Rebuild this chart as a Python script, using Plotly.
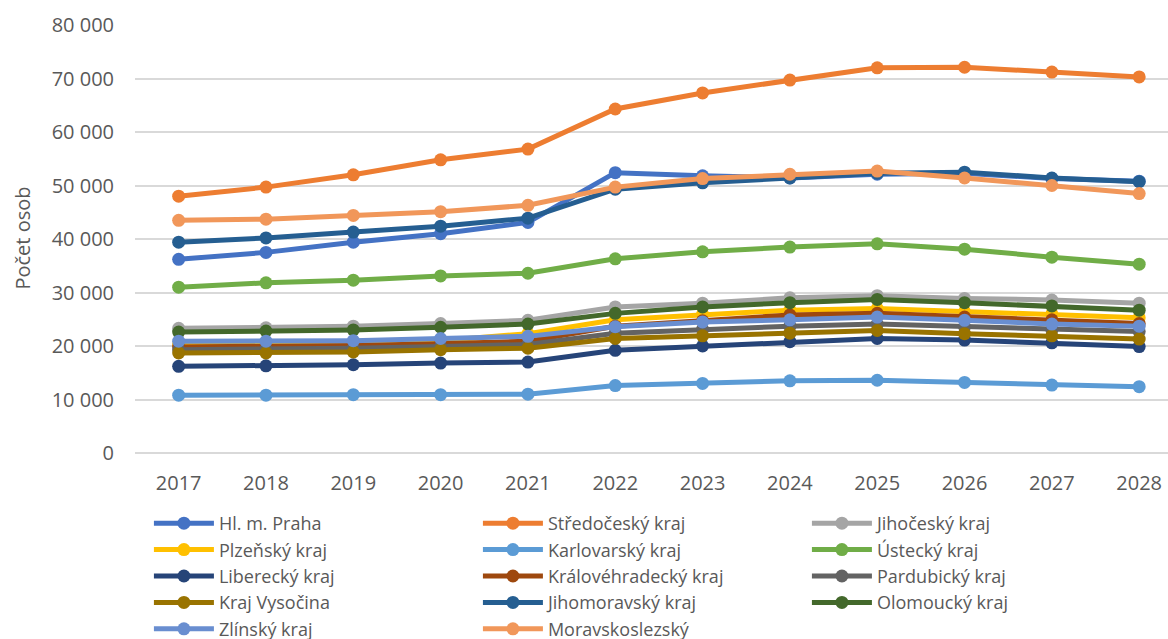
import plotly.graph_objects as go

years = [2017, 2018, 2019, 2020, 2021, 2022, 2023, 2024, 2025, 2026, 2027, 2028]

regions = [
    "Hl. m. Praha", "Středočeský kraj", "Jihočeský kraj", "Plzeňský kraj",
    "Karlovarský kraj", "Ústecký kraj", "Liberecký kraj", "Královéhradecký kraj",
    "Pardubický kraj", "Kraj Vysočina", "Jihomoravský kraj", "Olomoucký kraj",
    "Zlínský kraj", "Moravskoslezský",
]

praha = [36200, 37500, 39400, 41000, 43100, 52400, 51800, 51400, 52100, 52300, 51300, 50800]
stredocesky = [48000, 49700, 52000, 54800, 56800, 64300, 67300, 69700, 72000, 72100, 71200, 70300]
jihocesky = [23300, 23400, 23700, 24200, 24800, 27300, 28000, 29000, 29400, 28900, 28600, 28000]
plzensky = [20400, 20500, 20600, 21000, 22300, 24900, 25900, 26700, 27000, 26400, 26000, 25300]
karlovarsky = [10800, 10800, 10900, 10900, 11000, 12600, 13000, 13500, 13600, 13200, 12700, 12400]
ustecky = [31000, 31800, 32300, 33100, 33600, 36300, 37600, 38500, 39100, 38100, 36600, 35300]
liberecky = [16200, 16300, 16500, 16800, 17000, 19200, 20000, 20800, 21400, 21100, 20600, 19900]
kralovehradecky = [19800, 19900, 20100, 20400, 20900, 23700, 24700, 25800, 26100, 25400, 24900, 24200]
pardubicky = [19300, 19400, 19600, 19900, 20300, 22400, 23100, 23700, 24100, 23600, 23000, 22700]
vysocina = [18700, 18700, 18900, 19300, 19600, 21400, 21900, 22400, 22900, 22300, 21900, 21300]
jihomoravsky = [39400, 40200, 41300, 42400, 43900, 49300, 50500, 51400, 52300, 52500, 51400, 50700]
olomoucky = [22600, 22800, 23000, 23500, 24100, 26100, 27300, 28100, 28700, 28100, 27500, 26700]
zlinsky = [20900, 20900, 21000, 21400, 21800, 23600, 24500, 24900, 25400, 24800, 24100, 23700]
moravskoslezsky = [43500, 43700, 44400, 45100, 46300, 49700, 51300, 52100, 52700, 51400, 50000, 48500]

series = [praha, stredocesky, jihocesky, plzensky, karlovarsky, ustecky, liberecky,
          kralovehradecky, pardubicky, vysocina, jihomoravsky, olomoucky, zlinsky,
          moravskoslezsky]

colors = ["#4472C4", "#ED7D31", "#A5A5A5", "#FFC000", "#5B9BD5", "#70AD47", "#264478",
          "#9E480E", "#636363", "#997300", "#255E91", "#43682B", "#698ED0", "#F1975A"]

y_ticks = [0, 10000, 20000, 30000, 40000, 50000, 60000, 70000, 80000]

fig = go.Figure()
for name, vals, col in zip(regions, series, colors):
    fig.add_trace(go.Scatter(
        x=years, y=vals, name=name, mode="lines+markers",
        line=dict(color=col, width=5),
        marker=dict(color=col, size=13),
    ))

font_family = "'Open Sans', Lato, sans-serif"
text_color = "#595959"

fig.update_layout(
    width=1168, height=639,
    margin=dict(l=135, r=0, t=25, b=186),
    paper_bgcolor="white", plot_bgcolor="white",
    separators=", ",
    font=dict(family=font_family, size=20, color=text_color),
    showlegend=True,
    legend=dict(
        orientation="h", xref="container", yref="container",
        x=0.1275, y=0.2097, xanchor="left", yanchor="top",
        entrywidth=254, entrywidthmode="pixels",
        font=dict(family=font_family, size=18, color=text_color),
        itemwidth=60, traceorder="normal", tracegroupgap=0,
    ),
    xaxis=dict(
        range=[2016.5, 2028.33], tickmode="array", tickvals=years,
        ticktext=[str(y) for y in years],
        showgrid=False, zeroline=False, showline=False, ticks="",
        tickfont=dict(size=20, color=text_color), ticklabelstandoff=16,
    ),
    yaxis=dict(
        range=[0, 80000], tickmode="array", tickvals=y_ticks,
        tickformat=",d",
        showgrid=True, gridcolor="#D9D9D9", gridwidth=1.5,
        zeroline=True, zerolinecolor="#D9D9D9", zerolinewidth=1.5,
        showline=False, ticks="",
        tickfont=dict(size=20, color=text_color), ticklabelstandoff=20,
    ),
    annotations=[dict(
        text="Počet osob", xref="paper", yref="paper",
        x=-0.109, y=0.502, xanchor="center", yanchor="middle",
        textangle=-90, showarrow=False,
        font=dict(family=font_family, size=20, color=text_color),
    )],
)

fig.write_html(
    "out.html",
    config={"displayModeBar": False},
    post_script="document.body.style.margin='0';document.body.style.overflow='hidden';",
)
